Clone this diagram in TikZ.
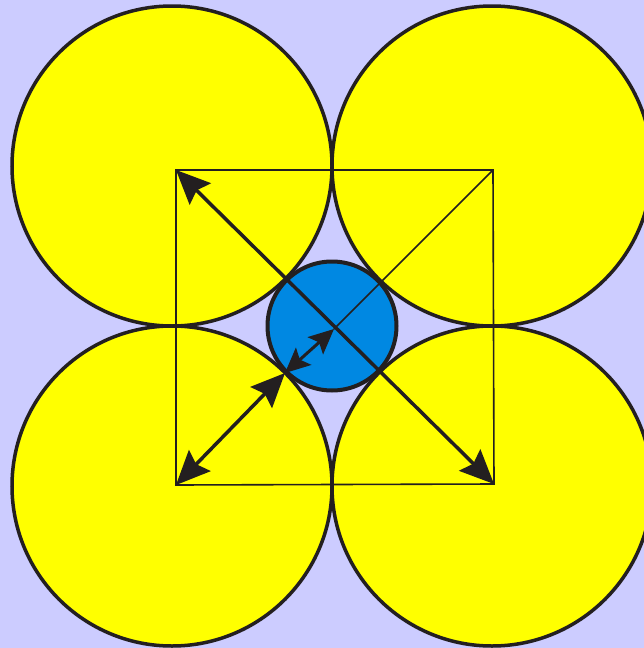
\documentclass[tikz,border=0pt]{standalone}
\usetikzlibrary{arrows.meta,calc,positioning}
\definecolor{lavender}{HTML}{CCCCFF}
\definecolor{sunny}{HTML}{FFFF00}
\definecolor{hubblue}{HTML}{0088E2}
\definecolor{ink}{HTML}{231F20}
\begin{document}
\begin{tikzpicture}[x=1pt,y=-1pt,
big/.style={circle,draw=ink,fill=sunny,line width=3.5pt,minimum size=320pt,inner sep=0pt},
small/.style={circle,draw=ink,fill=hubblue,line width=4pt,minimum size=129pt,inner sep=0pt},
thin/.style={draw=ink,line width=1.6pt},
dbl/.style={draw=ink,line width=3.5pt,{Stealth[length=34pt,width=30pt,inset=5pt]}-{Stealth[length=34pt,width=30pt,inset=5pt]}},
tiny/.style={draw=ink,line width=3pt,{Stealth[length=25pt,width=23pt,inset=5pt]}-{Stealth[length=25pt,width=23pt,inset=5pt]}}]
\useasboundingbox (0,0) rectangle (644,648);
\fill[lavender] (0,0) rectangle (644,648);
\node[big] (TL) at (172,166) {};
\node[big] (TR) at (492,166) {};
\node[big] (BL) at (172,486) {};
\node[big] (BR) at (492,486) {};
% square through the centres
\coordinate (sqTL) at (176,170);
\coordinate (sqTR) at (493,170);
\coordinate (sqBL) at (176,485);
\coordinate (sqBR) at (494,484);
\draw[thin] (sqTL)--(sqTR)--(sqBR)--(sqBL)--cycle;
\node[small] (hub) at (332,326) {};
\coordinate (O) at (334,329);
\draw[thin] (sqTR)--(O);
\draw[dbl] (sqTL)--(sqBR);
\draw[tiny] (O)--(hub.south west);
\draw[dbl] (hub.south west)--(sqBL);
\end{tikzpicture}
\end{document}
